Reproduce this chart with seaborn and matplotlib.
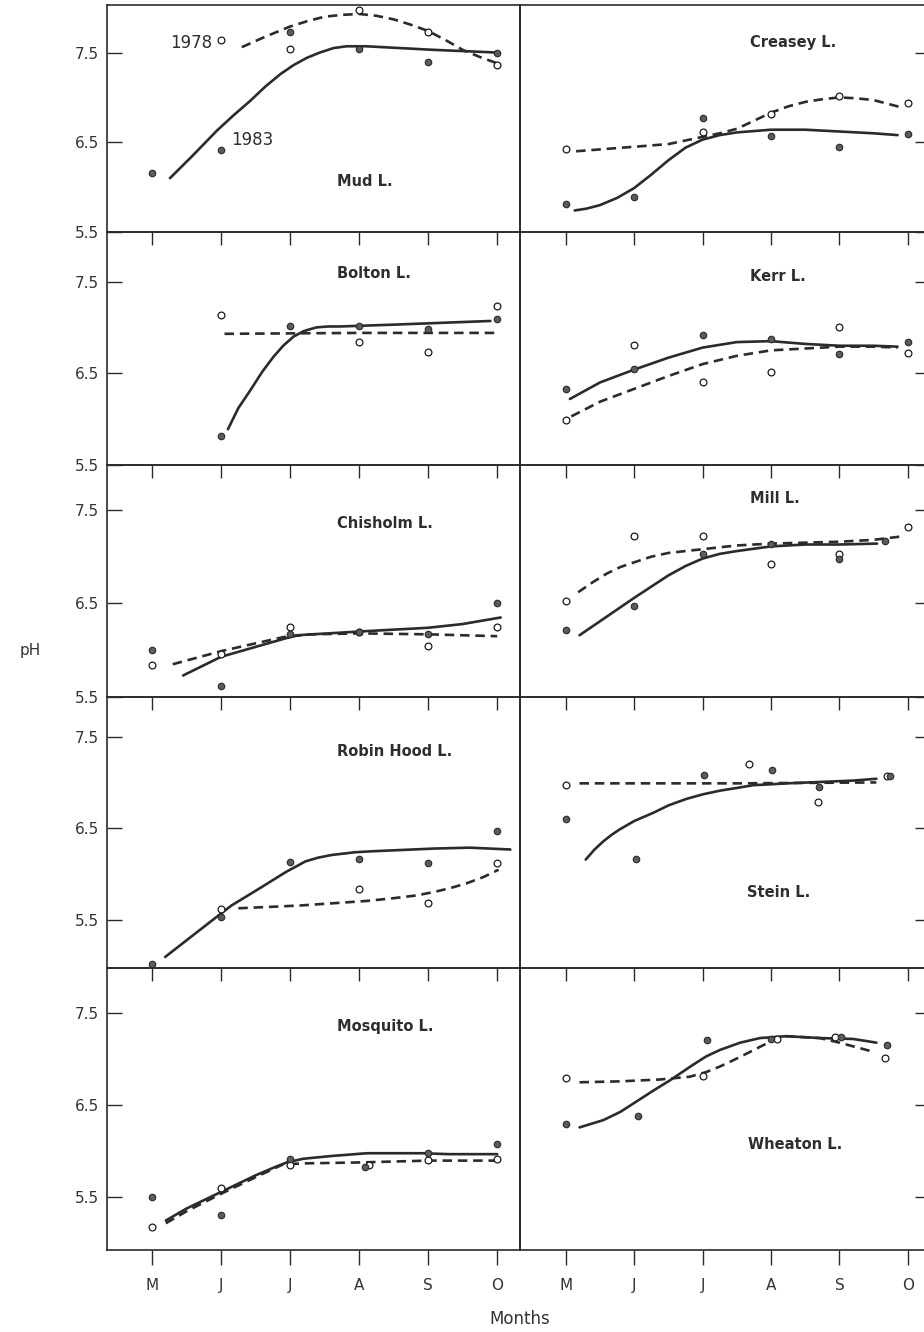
import matplotlib
matplotlib.use("Agg")
import matplotlib.pyplot as plt
import pandas as pd
import seaborn as sns

# ---------------------------------------------------------------- data
MONTHS = ["M", "J", "J", "A", "S", "O"]
MONTH_POS = [0, 1, 2, 3, 4, 5]
PH_TICKS = [5.5, 6.5, 7.5]

# month position (0 = May ... 5 = October) and pH; 78 = 1978, 83 = 1983;
# FIT* arrays trace the smoothed seasonal curve of each year.
MUD_T78 = [1, 2, 3, 4, 5]
MUD_PH78 = [7.64, 7.54, 7.97, 7.73, 7.36]
MUD_T83 = [0, 1, 2, 3, 4, 5]
MUD_PH83 = [6.16, 6.41, 7.73, 7.54, 7.39, 7.49]
MUD_FIT78_T = [1.3, 1.65, 2.0, 2.25, 2.5, 2.75, 3.0, 3.25, 3.5, 3.75, 4.0, 4.25, 4.5, 4.75, 5.0]
MUD_FIT78_PH = [7.56, 7.68, 7.79, 7.85, 7.90, 7.92, 7.93, 7.91, 7.87, 7.81, 7.74, 7.64, 7.53, 7.45, 7.38]
MUD_FIT83_T = [0.26, 0.6, 0.94, 1.18, 1.42, 1.64, 1.86, 2.05, 2.24, 2.43, 2.63, 2.82, 3.1, 4.08, 5.0]
MUD_FIT83_PH = [6.10, 6.36, 6.63, 6.80, 6.96, 7.12, 7.26, 7.36, 7.44, 7.50, 7.55, 7.57, 7.57, 7.53, 7.50]

CREASEY_T78 = [0, 2, 3, 4, 5]
CREASEY_PH78 = [6.42, 6.62, 6.81, 7.02, 6.94]
CREASEY_T83 = [0, 1, 2, 3, 4, 5]
CREASEY_PH83 = [5.81, 5.89, 6.77, 6.57, 6.45, 6.59]
CREASEY_FIT78_T = [0.15, 1.0, 1.5, 2.0, 2.25, 2.5, 2.75, 3.0, 3.25, 3.5, 3.75, 4.0, 4.25, 4.5, 4.9]
CREASEY_FIT78_PH = [6.40, 6.45, 6.48, 6.56, 6.60, 6.65, 6.74, 6.83, 6.90, 6.95, 6.98, 7.00, 6.99, 6.97, 6.89]
CREASEY_FIT83_T = [0.13, 0.3, 0.5, 0.75, 1.0, 1.25, 1.5, 1.75, 2.0, 2.25, 2.5, 3.0, 3.5, 4.0, 4.5, 4.85]
CREASEY_FIT83_PH = [5.74, 5.76, 5.80, 5.88, 5.99, 6.14, 6.30, 6.44, 6.53, 6.58, 6.61, 6.64, 6.64, 6.62, 6.60, 6.58]

BOLTON_T78 = [1, 3, 4, 5]
BOLTON_PH78 = [7.13, 6.84, 6.73, 7.23]
BOLTON_T83 = [1, 2, 3, 4, 5]
BOLTON_PH83 = [5.82, 7.01, 7.01, 6.98, 7.09]
BOLTON_FIT78_T = [1.05, 3.0, 5.0]
BOLTON_FIT78_PH = [6.93, 6.94, 6.94]
BOLTON_FIT83_T = [1.1, 1.25, 1.42, 1.6, 1.76, 1.9, 2.05, 2.2, 2.38, 2.55, 2.72, 3.5, 4.2, 4.9]
BOLTON_FIT83_PH = [5.89, 6.12, 6.31, 6.52, 6.68, 6.80, 6.90, 6.96, 7.00, 7.01, 7.01, 7.03, 7.05, 7.07]

KERR_T78 = [0, 1, 2, 3, 4, 5]
KERR_PH78 = [5.99, 6.81, 6.40, 6.51, 7.00, 6.72]
KERR_T83 = [0, 1, 2, 3, 4, 5]
KERR_PH83 = [6.33, 6.55, 6.92, 6.87, 6.71, 6.84]
KERR_FIT78_T = [0.08, 0.5, 1.0, 1.5, 2.0, 2.5, 3.0, 3.5, 4.0, 4.5, 4.85]
KERR_FIT78_PH = [6.03, 6.19, 6.33, 6.47, 6.60, 6.69, 6.75, 6.77, 6.79, 6.79, 6.78]
KERR_FIT83_T = [0.06, 0.5, 1.0, 1.5, 2.0, 2.5, 3.0, 3.5, 4.0, 4.5, 4.85]
KERR_FIT83_PH = [6.22, 6.40, 6.54, 6.67, 6.78, 6.84, 6.85, 6.82, 6.80, 6.80, 6.79]

CHISHOLM_T78 = [0, 1, 2, 3, 4, 5]
CHISHOLM_PH78 = [5.84, 5.96, 6.25, 6.20, 6.04, 6.25]
CHISHOLM_T83 = [0, 1, 2, 3, 4, 5]
CHISHOLM_PH83 = [6.00, 5.62, 6.17, 6.20, 6.17, 6.50]
CHISHOLM_FIT78_T = [0.3, 1.0, 1.9, 2.3, 3.0, 4.0, 5.0]
CHISHOLM_FIT78_PH = [5.85, 5.99, 6.14, 6.17, 6.18, 6.17, 6.15]
CHISHOLM_FIT83_T = [0.45, 1.0, 1.9, 2.1, 3.0, 4.0, 4.5, 5.05]
CHISHOLM_FIT83_PH = [5.73, 5.93, 6.12, 6.16, 6.20, 6.24, 6.28, 6.35]

MILL_T78 = [0, 1, 2, 3, 4, 5]
MILL_PH78 = [6.53, 7.22, 7.22, 6.92, 7.03, 7.32]
MILL_T83 = [0, 1, 2, 3, 4, 4.66]
MILL_PH83 = [6.22, 6.47, 7.03, 7.14, 6.98, 7.17]
MILL_FIT78_T = [0.18, 0.4, 0.6, 0.8, 1.0, 1.25, 1.5, 2.0, 2.5, 3.0, 3.5, 4.0, 4.5, 4.95]
MILL_FIT78_PH = [6.62, 6.73, 6.82, 6.89, 6.94, 7.00, 7.04, 7.08, 7.12, 7.14, 7.15, 7.16, 7.18, 7.22]
MILL_FIT83_T = [0.2, 0.6, 1.0, 1.5, 1.75, 2.0, 2.25, 2.5, 3.0, 3.5, 4.0, 4.55]
MILL_FIT83_PH = [6.16, 6.36, 6.56, 6.80, 6.90, 6.98, 7.03, 7.06, 7.11, 7.13, 7.13, 7.14]

ROBIN_T78 = [1, 3, 4, 5]
ROBIN_PH78 = [5.62, 5.84, 5.69, 6.12]
ROBIN_T83 = [0, 1, 2, 3, 4, 5]
ROBIN_PH83 = [5.02, 5.54, 6.13, 6.17, 6.12, 6.47]
ROBIN_FIT78_T = [1.25, 2.14, 3.11, 3.5, 3.83, 4.1, 4.32, 4.55, 4.8, 5.02]
ROBIN_FIT78_PH = [5.63, 5.66, 5.71, 5.74, 5.77, 5.81, 5.85, 5.90, 5.97, 6.05]
ROBIN_FIT83_T = [0.19, 0.6, 0.96, 1.15, 1.5, 1.95, 2.1, 2.22, 2.4, 2.6, 2.94, 3.17, 4.08, 4.6, 5.19]
ROBIN_FIT83_PH = [5.10, 5.34, 5.55, 5.66, 5.82, 6.03, 6.09, 6.14, 6.18, 6.21, 6.24, 6.25, 6.28, 6.29, 6.27]

STEIN_T78 = [0, 2.68, 3.69, 4.69]
STEIN_PH78 = [6.97, 7.20, 6.79, 7.07]
STEIN_T83 = [0, 1.03, 2.02, 3.02, 3.70, 4.74]
STEIN_PH83 = [6.60, 6.17, 7.08, 7.14, 6.95, 7.07]
STEIN_FIT78_T = [0.2, 2.5, 4.54]
STEIN_FIT78_PH = [6.99, 6.99, 7.00]
STEIN_FIT83_T = [0.29, 0.42, 0.55, 0.67, 0.79, 1.0, 1.28, 1.5, 1.76, 2.0, 2.25, 2.5, 2.74, 3.0, 3.23, 4.2, 4.54]
STEIN_FIT83_PH = [6.16, 6.27, 6.36, 6.43, 6.49, 6.58, 6.67, 6.75, 6.82, 6.87, 6.91, 6.94, 6.97, 6.98, 6.99, 7.02, 7.04]

MOSQUITO_T78 = [0, 1, 2, 3.15, 4, 5]
MOSQUITO_PH78 = [5.18, 5.60, 5.85, 5.85, 5.91, 5.92]
MOSQUITO_T83 = [0, 1, 2, 3.08, 4, 5]
MOSQUITO_PH83 = [5.51, 5.31, 5.92, 5.83, 5.98, 6.08]
MOSQUITO_FIT78_T = [0.2, 0.5, 1.0, 1.5, 1.9, 2.2, 3.0, 4.0, 5.0]
MOSQUITO_FIT78_PH = [5.22, 5.35, 5.54, 5.72, 5.86, 5.87, 5.88, 5.90, 5.90]
MOSQUITO_FIT83_T = [0.2, 0.5, 1.0, 1.5, 1.75, 1.95, 2.19, 2.6, 3.11, 3.91, 4.3, 5.0]
MOSQUITO_FIT83_PH = [5.25, 5.38, 5.56, 5.74, 5.82, 5.88, 5.92, 5.95, 5.98, 5.98, 5.97, 5.97]

WHEATON_T78 = [0, 2.01, 3.09, 3.93, 4.67]
WHEATON_PH78 = [6.80, 6.82, 7.22, 7.24, 7.01]
WHEATON_T83 = [0, 1.06, 2.07, 3.0, 4.02, 4.70]
WHEATON_PH83 = [6.30, 6.38, 7.21, 7.22, 7.24, 7.15]
WHEATON_FIT78_T = [0.2, 0.79, 1.37, 1.81, 2.05, 2.25, 2.45, 2.64, 2.88, 3.05, 3.23, 3.71, 4.0, 4.25, 4.5]
WHEATON_FIT78_PH = [6.75, 6.76, 6.78, 6.81, 6.86, 6.92, 6.99, 7.06, 7.15, 7.21, 7.25, 7.23, 7.18, 7.13, 7.08]
WHEATON_FIT83_T = [0.2, 0.55, 0.8, 1.03, 1.28, 1.52, 1.86, 2.05, 2.25, 2.55, 2.84, 3.23, 3.71, 4.2, 4.54]
WHEATON_FIT83_PH = [6.26, 6.34, 6.43, 6.54, 6.66, 6.77, 6.94, 7.03, 7.10, 7.18, 7.23, 7.25, 7.23, 7.22, 7.18]

LAKES = ["Mud L.", "Creasey L.", "Bolton L.", "Kerr L.", "Chisholm L.",
         "Mill L.", "Robin Hood L.", "Stein L.", "Mosquito L.", "Wheaton L."]

PANELS = [
    (MUD_T78, MUD_PH78, MUD_T83, MUD_PH83,
     MUD_FIT78_T, MUD_FIT78_PH, MUD_FIT83_T, MUD_FIT83_PH),
    (CREASEY_T78, CREASEY_PH78, CREASEY_T83, CREASEY_PH83,
     CREASEY_FIT78_T, CREASEY_FIT78_PH, CREASEY_FIT83_T, CREASEY_FIT83_PH),
    (BOLTON_T78, BOLTON_PH78, BOLTON_T83, BOLTON_PH83,
     BOLTON_FIT78_T, BOLTON_FIT78_PH, BOLTON_FIT83_T, BOLTON_FIT83_PH),
    (KERR_T78, KERR_PH78, KERR_T83, KERR_PH83,
     KERR_FIT78_T, KERR_FIT78_PH, KERR_FIT83_T, KERR_FIT83_PH),
    (CHISHOLM_T78, CHISHOLM_PH78, CHISHOLM_T83, CHISHOLM_PH83,
     CHISHOLM_FIT78_T, CHISHOLM_FIT78_PH, CHISHOLM_FIT83_T, CHISHOLM_FIT83_PH),
    (MILL_T78, MILL_PH78, MILL_T83, MILL_PH83,
     MILL_FIT78_T, MILL_FIT78_PH, MILL_FIT83_T, MILL_FIT83_PH),
    (ROBIN_T78, ROBIN_PH78, ROBIN_T83, ROBIN_PH83,
     ROBIN_FIT78_T, ROBIN_FIT78_PH, ROBIN_FIT83_T, ROBIN_FIT83_PH),
    (STEIN_T78, STEIN_PH78, STEIN_T83, STEIN_PH83,
     STEIN_FIT78_T, STEIN_FIT78_PH, STEIN_FIT83_T, STEIN_FIT83_PH),
    (MOSQUITO_T78, MOSQUITO_PH78, MOSQUITO_T83, MOSQUITO_PH83,
     MOSQUITO_FIT78_T, MOSQUITO_FIT78_PH, MOSQUITO_FIT83_T, MOSQUITO_FIT83_PH),
    (WHEATON_T78, WHEATON_PH78, WHEATON_T83, WHEATON_PH83,
     WHEATON_FIT78_T, WHEATON_FIT78_PH, WHEATON_FIT83_T, WHEATON_FIT83_PH),
]

# ---------------------------------------------------------------- layout
W, H = 924, 1332
ROW_PX = [227, 233, 232, 271, 282]
ROW_YLIM = [(5.5, 8.03), (5.5, 8.04), (5.5, 7.98), (4.98, 7.93), (4.93, 7.99)]
COL_XLIM = [(-0.652, 5.33), (-0.67, 5.28)]
# (x in months, y in pH) for each lake's name
NAME_POS = [(2.68, 6.06), (2.69, 7.61), (2.68, 7.59), (2.69, 7.55), (2.68, 7.35),
            (2.69, 7.62), (2.68, 7.34), (2.65, 5.80), (2.68, 7.36), (2.67, 6.08)]

INK = "#2b2b2b"
FILL = "#5c5c5c"

sns.set_theme(style="ticks")
plt.rcParams["font.family"] = ["DejaVu Sans"]
plt.rcParams["axes.linewidth"] = 1.2
plt.rcParams["axes.edgecolor"] = INK
plt.rcParams["lines.solid_capstyle"] = "round"
plt.rcParams["lines.solid_joinstyle"] = "round"

fig = plt.figure(figsize=(W / 100, H / 100), dpi=100)
fig.patch.set_facecolor("white")
gs = fig.add_gridspec(5, 2, left=107 / W, right=927 / W, top=1 - 5 / H,
                      bottom=1 - 1250 / H, hspace=0, wspace=0,
                      height_ratios=ROW_PX, width_ratios=[413, 407])


def draw_panel(ax, t78, ph78, t83, ph83, f78t, f78p, f83t, f83p):
    sns.lineplot(x=f83t, y=f83p, ax=ax, color=INK, linewidth=1.9,
                 estimator=None, sort=False, zorder=3)
    sns.lineplot(x=f78t, y=f78p, ax=ax, color=INK, linewidth=1.9,
                 linestyle=(0, (3.6, 2.2)), estimator=None, sort=False, zorder=3)
    sns.scatterplot(x=t78, y=ph78, ax=ax, marker="o", s=24, color="white",
                    edgecolor="#1a1a1a", linewidth=0.9, zorder=5)
    sns.scatterplot(x=t83, y=ph83, ax=ax, marker="o", s=22, color=FILL,
                    edgecolor="#2a2a2a", linewidth=0.8, zorder=5)


for k, (lake, data) in enumerate(zip(LAKES, PANELS)):
    row, col = divmod(k, 2)
    ax = fig.add_subplot(gs[row, col])
    ax.patch.set_visible(False)
    draw_panel(ax, *data)
    ax.set_xlim(*COL_XLIM[col])
    ax.set_ylim(*ROW_YLIM[row])
    ax.set_xlabel("")
    ax.set_ylabel("")

    # x ticks: short outward marks on every panel base, labelled at the bottom row
    ax.set_xticks(MONTH_POS)
    last = row == 4
    ax.tick_params(axis="x", direction="out", bottom=True, top=False,
                   length=11 if last else 9, width=1.0, color=INK,
                   labelbottom=last, pad=9, labelsize=11, labelcolor="#333333")
    if last:
        ax.set_xticklabels(MONTHS)

    ax.set_yticks(PH_TICKS)
    if col == 0:
        ax.tick_params(axis="y", direction="in", left=True, right=False,
                       length=11, width=1.0, color=INK, labelleft=True,
                       pad=6, labelsize=11, labelcolor="#333333")
        ax.set_yticklabels([f"{v:.1f}" for v in PH_TICKS])
    else:
        ax.yaxis.tick_right()
        ax.tick_params(axis="y", direction="in", left=False, right=True,
                       length=9, width=1.0, color=INK, labelright=False,
                       labelleft=False)

    nx, ny = NAME_POS[k]
    ax.text(nx, ny, lake, ha="left", va="center", fontsize=10.5,
            fontweight="bold", color="#2e2e2e", zorder=6)

    if k == 0:
        ax.text(0.87, 7.61, "1978", ha="right", va="center", fontsize=12,
                color="#2e2e2e")
        ax.text(1.14, 6.53, "1983", ha="left", va="center", fontsize=12,
                color="#2e2e2e")

fig.text(30 / W, 1 - 650 / H, "pH", ha="center", va="center",
         fontsize=11, color="#333333")
fig.text(520 / W, 1 - 1319 / H, "Months", ha="center", va="center",
         fontsize=12, color="#333333")

fig.savefig("out.png", dpi=100, facecolor="white")
